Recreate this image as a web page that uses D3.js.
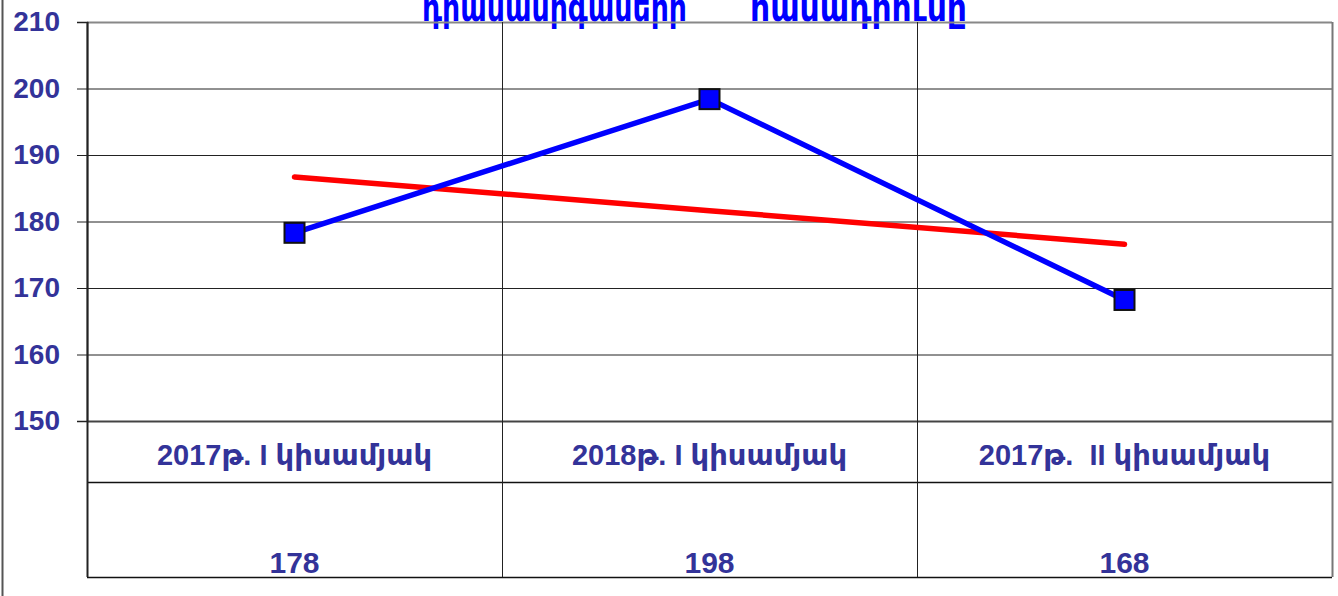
<!DOCTYPE html>
<html>
<head>
<meta charset="utf-8">
<script src="https://cdn.jsdelivr.net/npm/d3@7"></script>
<style>
	body { margin: 0; background: #fff; }
	svg { display: block; }
</style>
</head>
<body>
<svg class="chart" width="1338" height="596"></svg>
<script>
/** DATA **/
let categories = ['2017թ. I կիսամյակ', '2018թ. I կիսամյակ', '2017թ.  II կիսամյակ'];
let values = [178.3, 198.4, 168.2];
let valueLabels = ['178', '198', '168'];
let yTicks = [150, 160, 170, 180, 190, 200, 210];
let titleParts = ['դրամանրգամերի', 'համադրումը'];

/** CONSTANTS **/
let margin = { top: 22, left: 87, right: 6, bottom: 175 };
let width = 1338 - margin.left - margin.right;
let height = 596 - margin.top - margin.bottom;
let textColor = '#333399';
let font = '"Liberation Sans", "DejaVu Sans", Arial, sans-serif';

let x = d3.scaleBand().domain(categories).range([0, width]);
let y = d3.scaleLinear().domain([150, 210]).range([height, 0]);

let svg = d3.select('.chart');

// outer left frame
svg.append('line')
	.attr('x1', 2.5).attr('x2', 2.5).attr('y1', 0).attr('y2', 596)
	.style('stroke', '#555').style('stroke-width', 2);

// title (clipped at top, as in the source)
let titleX = [422, 750];
let titleW = [265, 217];
svg.selectAll('.title')
	.data(titleParts)
	.enter()
	.append('text')
	.attr('x', function(d, i) { return titleX[i]; })
	.attr('y', 21)
	.attr('textLength', function(d, i) { return titleW[i]; })
	.attr('lengthAdjust', 'spacingAndGlyphs')
	.style('font', 'bold 38px "DejaVu Sans", sans-serif')
	.style('fill', '#0000ff')
	.text(function(d) { return d; });

let g = svg.append('g').attr('transform', 'translate(' + margin.left + ',' + margin.top + ')');

// horizontal grid
g.selectAll('.grid')
	.data(yTicks)
	.enter()
	.append('line')
	.attr('x1', 0).attr('x2', width)
	.attr('y1', function(d) { return y(d) + 0.5; })
	.attr('y2', function(d) { return y(d) + 0.5; })
	.style('stroke', function(d) { return d === 210 ? '#888' : '#222'; })
	.style('stroke-width', function(d) { return d === 210 ? 2 : 1; });

// y axis with ticks to the left
let yAxis = g.append('g')
	.call(d3.axisLeft(y).tickValues(yTicks).tickSize(10).tickPadding(17));
yAxis.select('.domain').style('stroke', '#222').style('stroke-width', 1.5);
yAxis.selectAll('.tick line').style('stroke', '#222');
yAxis.selectAll('.tick text')
	.style('font', 'bold 28px ' + font)
	.style('fill', textColor);

// table rows below plot
let row1 = 61, row2 = 95;
let tableBottom = height + row1 + row2;
[height, height + row1, tableBottom].forEach(function(yy, i) {
	g.append('line')
		.attr('x1', 0).attr('x2', width)
		.attr('y1', yy + 0.5).attr('y2', yy + 0.5)
		.style('stroke', i === 0 ? '#444' : '#111')
		.style('stroke-width', i === 0 ? 2 : 1.5);
});

// vertical category borders through plot and table
let bounds = categories.map(function(c) { return x(c); }).concat([width]);
g.selectAll('.vline')
	.data(bounds)
	.enter()
	.append('line')
	.attr('x1', function(d) { return d + 0.5; })
	.attr('x2', function(d) { return d + 0.5; })
	.attr('y1', 0)
	.attr('y2', tableBottom)
	.style('stroke', function(d, i) { return i === bounds.length - 1 ? '#777' : '#222'; })
	.style('stroke-width', function(d, i) { return i === 0 || i === bounds.length - 1 ? 2 : 1; });

// category labels
g.selectAll('.cat')
	.data(categories)
	.enter()
	.append('text')
	.attr('x', function(d) { return x(d) + x.bandwidth() / 2; })
	.attr('y', height + 44)
	.attr('text-anchor', 'middle')
	.style('font', 'bold 29px ' + font)
	.style('white-space', 'pre')
	.style('fill', textColor)
	.text(function(d) { return d; });

// value labels
g.selectAll('.val')
	.data(valueLabels)
	.enter()
	.append('text')
	.attr('x', function(d, i) { return x(categories[i]) + x.bandwidth() / 2; })
	.attr('y', tableBottom - 4)
	.attr('text-anchor', 'middle')
	.style('font', 'bold 30px ' + font)
	.style('fill', textColor)
	.text(function(d) { return d; });

// linear trend line
let n = values.length;
let mx = d3.mean(d3.range(n));
let my = d3.mean(values);
let slope = d3.sum(d3.range(n), function(i) { return (i - mx) * (values[i] - my); }) /
	d3.sum(d3.range(n), function(i) { return (i - mx) * (i - mx); });
let trend = d3.range(n).map(function(i) { return my + slope * (i - mx); });

let cx = function(d, i) { return x(categories[i]) + x.bandwidth() / 2; };

g.append('path')
	.datum(trend)
	.attr('d', d3.line().x(cx).y(function(d) { return y(d); }))
	.style('fill', 'none')
	.style('stroke', '#ff0000')
	.style('stroke-width', 5.5)
	.style('stroke-linecap', 'round');

g.append('path')
	.datum(values)
	.attr('d', d3.line().x(cx).y(function(d) { return y(d); }))
	.style('fill', 'none')
	.style('stroke', '#0000ff')
	.style('stroke-width', 5.5);

g.selectAll('.marker')
	.data(values)
	.enter()
	.append('rect')
	.attr('x', function(d, i) { return cx(d, i) - 10; })
	.attr('y', function(d) { return y(d) - 10; })
	.attr('width', 20)
	.attr('height', 20)
	.style('fill', '#0000ff')
	.style('stroke', '#111')
	.style('stroke-width', 2);
</script>
</body>
</html>
